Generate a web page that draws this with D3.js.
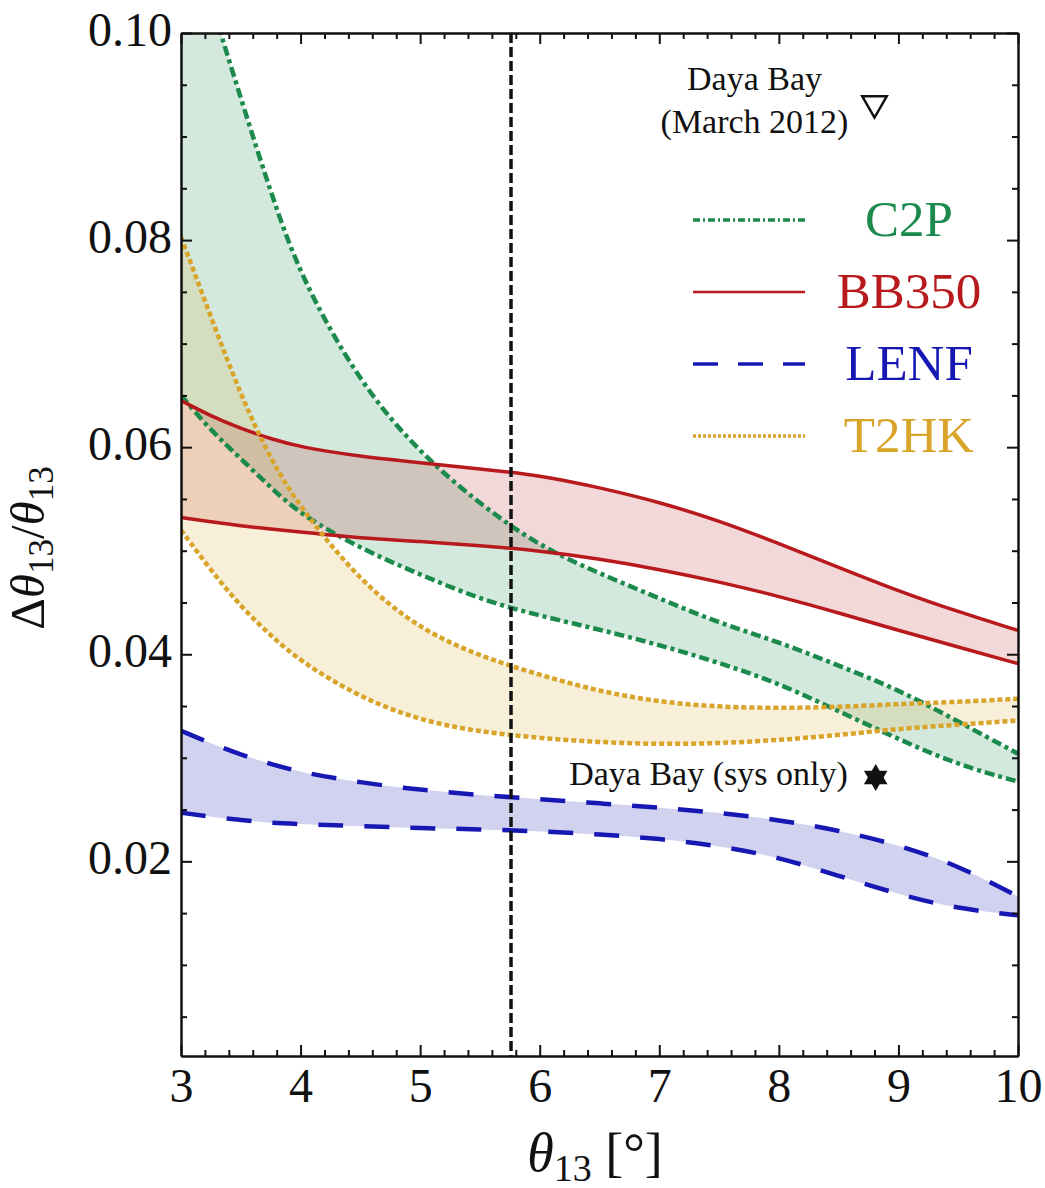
<!DOCTYPE html>
<html>
<head>
<meta charset="utf-8">
<script src="https://cdn.jsdelivr.net/npm/d3@7"></script>
<style>
  body { margin: 0; background: #fff; }
  svg { display: block; }
  text { font-family: "Liberation Serif", "Times New Roman", serif; fill: #111; }
</style>
</head>
<body>
<svg id="chart"></svg>
<script>
// theta13 grid (degrees) and relative error bands
const theta = [3, 3.25, 3.5, 3.75, 4, 4.5, 5, 5.5, 6, 6.5, 7, 7.5, 8, 8.5, 9, 9.5, 10];

const c2pHi  = [0.113, 0.103, 0.0937, 0.0846, 0.0764, 0.0661, 0.0594, 0.0545, 0.0504, 0.0478, 0.0454, 0.0430, 0.0412, 0.0389, 0.0366, 0.0335, 0.0304];
const c2pLo  = [0.0650, 0.0616, 0.0589, 0.0561, 0.0535, 0.0502, 0.0477, 0.0453, 0.0437, 0.0424, 0.0409, 0.0392, 0.0372, 0.0345, 0.0318, 0.0293, 0.0277];
const bbHi   = [0.0645, 0.0630, 0.0618, 0.0608, 0.0600, 0.0591, 0.0585, 0.0579, 0.0573, 0.0561, 0.0547, 0.0529, 0.0507, 0.0484, 0.0461, 0.0441, 0.0423];
const bbLo   = [0.0532, 0.0528, 0.0524, 0.0521, 0.0518, 0.0512, 0.0509, 0.0505, 0.0500, 0.0492, 0.0482, 0.0470, 0.0456, 0.0440, 0.0423, 0.0407, 0.0391];
const lenfHi = [0.0326, 0.0314, 0.0303, 0.0294, 0.0286, 0.0276, 0.0269, 0.0264, 0.0260, 0.0256, 0.0252, 0.0247, 0.0240, 0.0230, 0.0216, 0.0196, 0.0166];
const lenfLo = [0.0247, 0.0243, 0.0240, 0.0237, 0.0236, 0.0234, 0.0232, 0.0231, 0.0229, 0.0226, 0.0222, 0.0215, 0.0204, 0.0186, 0.0168, 0.0154, 0.0148];
const t2hkHi = [0.0803, 0.0726, 0.0650, 0.0588, 0.0541, 0.0470, 0.0424, 0.0398, 0.0380, 0.0364, 0.0354, 0.0349, 0.0348, 0.0349, 0.0352, 0.0354, 0.0357];
const t2hkLo = [0.0520, 0.0481, 0.0446, 0.0418, 0.0393, 0.0358, 0.0336, 0.0325, 0.0319, 0.0315, 0.0313, 0.0314, 0.0317, 0.0322, 0.0328, 0.0332, 0.0336];

const xTicks = [3, 4, 5, 6, 7, 8, 9, 10];
const yTicks = [0.02, 0.04, 0.06, 0.08, 0.10];

const bestFit = 5.76;                          // vertical dashed line
const dayaBayMarch = { theta: 8.8, rel: 0.0932 };
const dayaBaySys = { theta: 8.81, rel: 0.0281 };

const series = [
  { name: "C2P",   hi: c2pHi,  lo: c2pLo,  color: "#1b8a4c", dash: "10,4,4,4", legendDash: "7,3,2,3", width: 4.5, fillOp: 0.19 },
  { name: "BB350", hi: bbHi,   lo: bbLo,   color: "#b8191c", dash: null,       legendDash: null,      width: 3.5, fillOp: 0.17 },
  { name: "LENF",  hi: lenfHi, lo: lenfLo, color: "#1717b4", dash: "25,21",    legendDash: "25,20",   width: 4.5, fillOp: 0.2 },
  { name: "T2HK",  hi: t2hkHi, lo: t2hkLo, color: "#d9a42a", dash: "5,3",      legendDash: "3,2",     width: 4.5, fillOp: 0.18 }
];

const W = 1045, H = 1188;
const margin = { top: 33, right: 27, bottom: 132, left: 181 };
const width = W - margin.left - margin.right,
      height = H - margin.top - margin.bottom;

const svg = d3.select("#chart").attr("width", W).attr("height", H);
const g = svg.append("g").attr("transform", `translate(${margin.left},${margin.top})`);

const x = d3.scaleLinear().domain([3, 10]).range([0, width]);
const y = d3.scaleLinear().domain([0.0012, 0.10]).range([height, 0]);

svg.append("defs").append("clipPath").attr("id", "plot-clip")
  .append("rect").attr("width", width).attr("height", height);

const plot = g.append("g").attr("clip-path", "url(#plot-clip)");

const area = s => d3.area()
  .x((d, i) => x(theta[i]))
  .y0((d, i) => y(s.lo[i]))
  .y1((d, i) => y(s.hi[i]))
  .curve(d3.curveBasis)(theta);

const line = vals => d3.line()
  .x((d, i) => x(theta[i]))
  .y((d, i) => y(vals[i]))
  .curve(d3.curveBasis)(theta);

// band fills
plot.selectAll(".band")
  .data(series)
  .enter().append("path")
  .attr("class", "band")
  .attr("d", area)
  .attr("fill", d => d.color)
  .attr("fill-opacity", d => d.fillOp);

// band edges
series.forEach(s => {
  [s.hi, s.lo].forEach(vals => {
    plot.append("path")
      .attr("d", line(vals))
      .attr("fill", "none")
      .attr("stroke", s.color)
      .attr("stroke-width", s.width)
      .attr("stroke-dasharray", s.dash);
  });
});

// best-fit vertical line
plot.append("line")
  .attr("x1", x(bestFit)).attr("x2", x(bestFit))
  .attr("y1", 0).attr("y2", height)
  .attr("stroke", "#111")
  .attr("stroke-width", 3.5)
  .attr("stroke-dasharray", "10,4");

// markers
const tri = d3.symbol().type(d3.symbolTriangle).size(260);
g.append("path")
  .attr("d", tri())
  .attr("transform", `translate(${x(dayaBayMarch.theta)},${y(dayaBayMarch.rel)}) rotate(180)`)
  .attr("fill", "#fff").attr("stroke", "#111").attr("stroke-width", 2.5);

const starTri = d3.symbol().type(d3.symbolTriangle).size(240);
[0, 180].forEach(r => {
  g.append("path")
    .attr("d", starTri())
    .attr("transform", `translate(${x(dayaBaySys.theta)},${y(dayaBaySys.rel)}) rotate(${r})`)
    .attr("fill", "#111");
});

g.append("text")
  .attr("x", x(dayaBaySys.theta) - 28)
  .attr("y", y(dayaBaySys.rel) + 8)
  .attr("text-anchor", "end")
  .style("font-size", "34px")
  .text("Daya Bay (sys only)");

const dbLabel = g.append("text")
  .attr("text-anchor", "middle")
  .style("font-size", "34px");
dbLabel.append("tspan").attr("x", x(dayaBayMarch.theta) - 120).attr("y", 57).text("Daya Bay");
dbLabel.append("tspan").attr("x", x(dayaBayMarch.theta) - 120).attr("y", 100).text("(March 2012)");

// legend
const legend = g.append("g").attr("transform", "translate(512,187)");
const legendItem = legend.selectAll("g")
  .data(series)
  .enter().append("g")
  .attr("transform", (d, i) => `translate(0,${i * 72})`);
legendItem.append("line")
  .attr("x1", 0).attr("x2", 112)
  .attr("stroke", d => d.color)
  .attr("stroke-width", d => d.width - 1)
  .attr("stroke-dasharray", d => d.legendDash);
legendItem.append("text")
  .attr("x", 216)
  .attr("y", 16)
  .attr("text-anchor", "middle")
  .style("font-size", "51px")
  .style("fill", d => d.color)
  .text(d => d.name);

// axes: ticks inward on all four sides
const xMinor = d3.range(3, 10.001, 0.2).filter(v => Math.abs(v - Math.round(v)) > 1e-6);
const yMinor = d3.range(0.005, 0.1001, 0.005).filter(v => yTicks.every(t => Math.abs(t - v) > 1e-6));

function styleAxis(sel) {
  sel.select(".domain").attr("stroke", "#111").attr("stroke-width", 2);
  sel.selectAll(".tick line").attr("stroke", "#111").attr("stroke-width", 2);
  sel.selectAll(".tick text").style("font-size", "48px").attr("fill", "#111");
}

g.append("g").attr("transform", `translate(0,${height})`)
  .call(d3.axisBottom(x).tickValues(xTicks).tickFormat(d3.format("d")).tickSize(-11).tickSizeOuter(0).tickPadding(12))
  .call(styleAxis);
g.append("g").attr("transform", `translate(0,${height})`)
  .call(d3.axisBottom(x).tickValues(xMinor).tickFormat("").tickSize(-6).tickSizeOuter(0))
  .call(styleAxis);
g.append("g")
  .call(d3.axisTop(x).tickValues(xTicks).tickFormat("").tickSize(-11).tickSizeOuter(0))
  .call(styleAxis);
g.append("g")
  .call(d3.axisTop(x).tickValues(xMinor).tickFormat("").tickSize(-6).tickSizeOuter(0))
  .call(styleAxis);

g.append("g")
  .call(d3.axisLeft(y).tickValues(yTicks).tickFormat(d3.format(".2f")).tickSize(-11).tickSizeOuter(0).tickPadding(9))
  .call(styleAxis)
  .selectAll(".tick text").attr("dy", "0.25em");
g.append("g")
  .call(d3.axisLeft(y).tickValues(yMinor).tickFormat("").tickSize(-6).tickSizeOuter(0))
  .call(styleAxis);
g.append("g").attr("transform", `translate(${width},0)`)
  .call(d3.axisRight(y).tickValues(yTicks).tickFormat("").tickSize(-11).tickSizeOuter(0))
  .call(styleAxis);
g.append("g").attr("transform", `translate(${width},0)`)
  .call(d3.axisRight(y).tickValues(yMinor).tickFormat("").tickSize(-6).tickSizeOuter(0))
  .call(styleAxis);

// axis titles
const xt = svg.append("text")
  .attr("x", 595).attr("y", 1171)
  .attr("text-anchor", "middle")
  .style("font-size", "54px");
xt.append("tspan").style("font-style", "italic").text("θ");
xt.append("tspan").attr("dy", 10).style("font-size", "38px").text("13");
xt.append("tspan").attr("dy", -10).text(" [°]");

const yt = svg.append("text")
  .attr("transform", "translate(44,548) rotate(-90)")
  .attr("text-anchor", "middle")
  .style("font-size", "49px");
yt.append("tspan").text("Δ");
yt.append("tspan").style("font-style", "italic").text("θ");
yt.append("tspan").attr("dy", 9).style("font-size", "35px").text("13");
yt.append("tspan").attr("dy", -9).text("/");
yt.append("tspan").style("font-style", "italic").text("θ");
yt.append("tspan").attr("dy", 9).style("font-size", "35px").text("13");
</script>
</body>
</html>
